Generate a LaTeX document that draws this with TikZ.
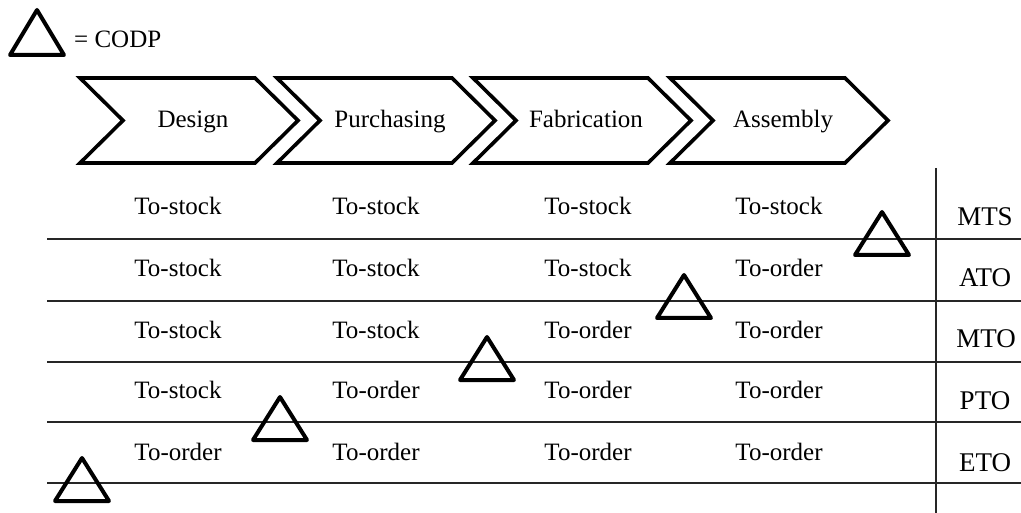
\documentclass[tikz,border=0pt]{standalone}
\usepackage{fontspec}
\setmainfont{Liberation Serif}
\begin{document}
\begin{tikzpicture}[x=1pt,y=-1pt,
  txt/.style={font=\fontsize{25}{30}\selectfont, inner sep=0pt, anchor=base},
  lbl/.style={font=\fontsize{27}{32}\selectfont, inner sep=0pt, anchor=base},
  chev/.style={draw, line width=3.6pt, line join=miter},
  codp/.style={draw, line width=4pt, line join=round},
  rule/.style={line width=1.4pt, black!85}]
\useasboundingbox (0,0) rectangle (1021,513);

% legend
\draw[codp] (37,10) -- (64,55) -- (10,55) -- cycle;
\node[txt, anchor=base west] (legend) at (74,48) {= CODP};

% process chevrons
\foreach \x/\t/\nm in {80/Design/design, 277/Purchasing/purch, 473/Fabrication/fab, 670/Assembly/asm} {
  \draw[chev] (\x,78) -- (\x+175,78) -- (\x+218,120.5) -- (\x+175,163)
              -- (\x,163) -- (\x+43,120.5) -- cycle;
  \node[txt] (\nm) at (\x+113,128) {\t};
}

% table rules
\coordinate (vtop) at (936,168);
\coordinate (vbot) at (936,513);
\draw[rule] (vtop) -- (vbot);
\foreach \y/\n in {239/a, 301/b, 362/c, 422/d, 483/e} {
  \coordinate (l\n) at (47,\y);
  \coordinate (r\n) at (1021,\y);
  \draw[rule] (l\n) -- (r\n);
}

% cells
\foreach \r/\y/\a/\b/\c/\d in {
  1/215/To-stock/To-stock/To-stock/To-stock,
  2/277/To-stock/To-stock/To-stock/To-order,
  3/338/To-stock/To-stock/To-order/To-order,
  4/399/To-stock/To-order/To-order/To-order,
  5/460/To-order/To-order/To-order/To-order} {
  \node[txt] (c\r a) at (178,\y) {\a};
  \node[txt] (c\r b) at (376,\y) {\b};
  \node[txt] (c\r c) at (588,\y) {\c};
  \node[txt] (c\r d) at (779,\y) {\d};
}

% strategy labels
\node[lbl] (mts) at (985,226) {MTS};
\node[lbl] (ato) at (985,287) {ATO};
\node[lbl] (mto) at (986,348) {MTO};
\node[lbl] (pto) at (985,409) {PTO};
\node[lbl] (eto) at (985,471) {ETO};

% decoupling points
\foreach \cx/\ty in {882/212, 684/275, 487/337, 280/397, 82/458} {
  \draw[codp] (\cx,\ty) -- (\cx+27,\ty+43) -- (\cx-27,\ty+43) -- cycle;
}
\end{tikzpicture}
\end{document}
